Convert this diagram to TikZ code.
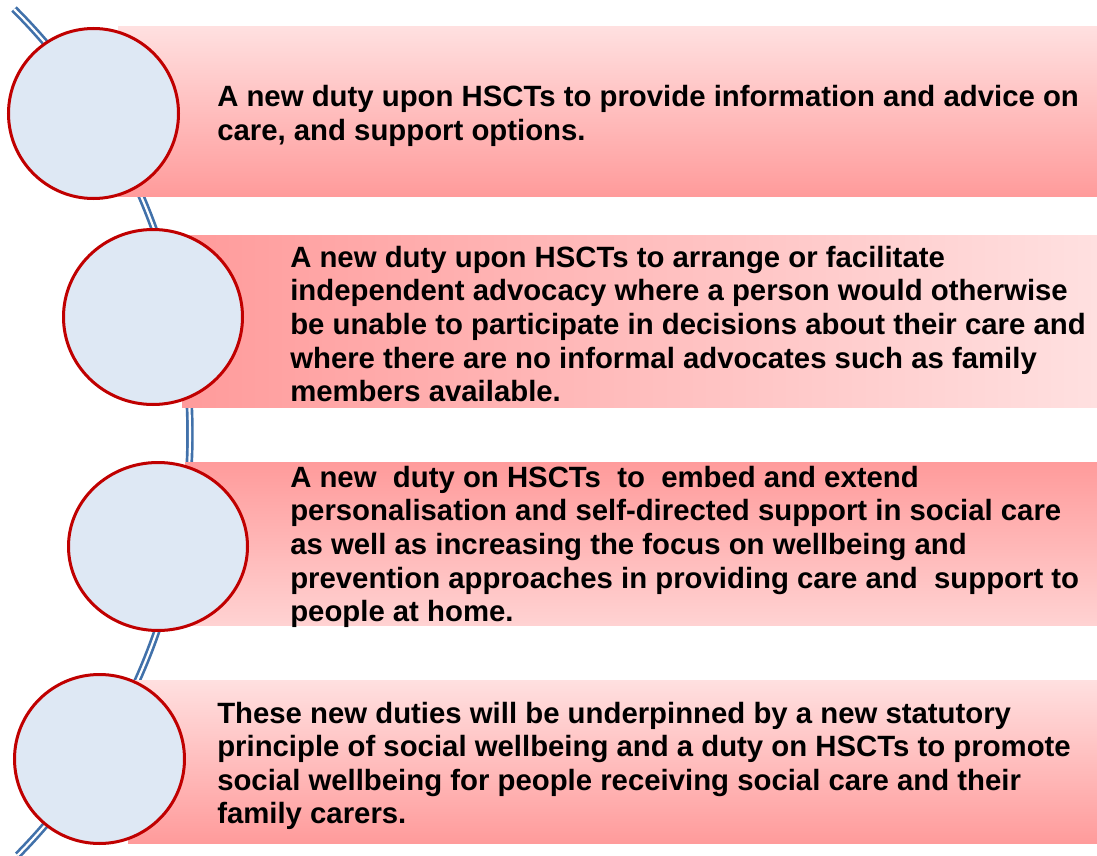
\documentclass[tikz,border=0pt]{standalone}
\usepackage{fontspec}
\setmainfont{Liberation Sans}
\usetikzlibrary{shapes.geometric}
\definecolor{ringred}{RGB}{192,0,0}
\definecolor{bubblefill}{RGB}{222,232,244}
\definecolor{linkblue}{RGB}{65,113,170}
\definecolor{banddark}{RGB}{255,155,155}
\definecolor{bandlight}{RGB}{255,224,224}

\begin{document}
\begin{tikzpicture}[x=0.75pt,y=-0.75pt,
            bubble/.style={ellipse, draw=ringred, line width=2.25pt, fill=bubblefill, inner sep=0pt},
            note/.style={anchor=west, align=left, inner sep=0pt, font=\fontsize{22}{25.2}\selectfont\bfseries},
            link/.style={draw=linkblue, line width=2pt, double=white, double distance=1.6pt},
        ]
        \useasboundingbox (0,0) rectangle (1097,856);

        % the long double arc behind everything
        \coordinate (arcTop) at (14,9);
        \draw[link] (arcTop) arc[start angle=-45, end angle=44.5, radius=601];

        % shaded bands
        \shade[top color=bandlight, bottom color=banddark] (118,27) rectangle (1097,196);
        \shade[left color=banddark, right color=bandlight] (182,235) rectangle (1097,407);
        \shade[top color=banddark, bottom color=bandlight!80!banddark] (185,462) rectangle (1097,625);
        \shade[top color=bandlight, bottom color=banddark] (128,680) rectangle (1097,843);

        % circles
        \node[bubble, minimum width=127.5pt, minimum height=127.5pt] (c1) at (93.5,113.5) {};
        \node[bubble, minimum width=134.25pt, minimum height=131.25pt] (c2) at (153,317) {};
        \node[bubble, minimum width=134.25pt, minimum height=126pt] (c3) at (158,546.5) {};
        \node[bubble, minimum width=127.5pt, minimum height=126.75pt] (c4) at (99.5,759) {};

        % texts
        \node[note] (t1) at (217,116) {A new duty upon HSCTs to provide information and advice on\\care, and support options.};
        \node[note] (t2) at (290,324) {A new duty upon HSCTs to arrange or facilitate\\independent advocacy where a person would otherwise\\be unable to participate in decisions about their care and\\where there are no informal advocates such as family\\members available.};
        \node[note] (t3) at (290,547) {A new~ duty on HSCTs~ to~ embed and extend\\personalisation and self-directed support in social care\\as well as increasing the focus on wellbeing and\\prevention approaches in providing care and~ support to\\people at home.};
        \node[note] (t4) at (217,766) {These new duties will be underpinned by a new statutory\\principle of social wellbeing and a duty on HSCTs to promote\\social wellbeing for people receiving social care and their\\family carers.};

    \end{tikzpicture}
\end{document}
